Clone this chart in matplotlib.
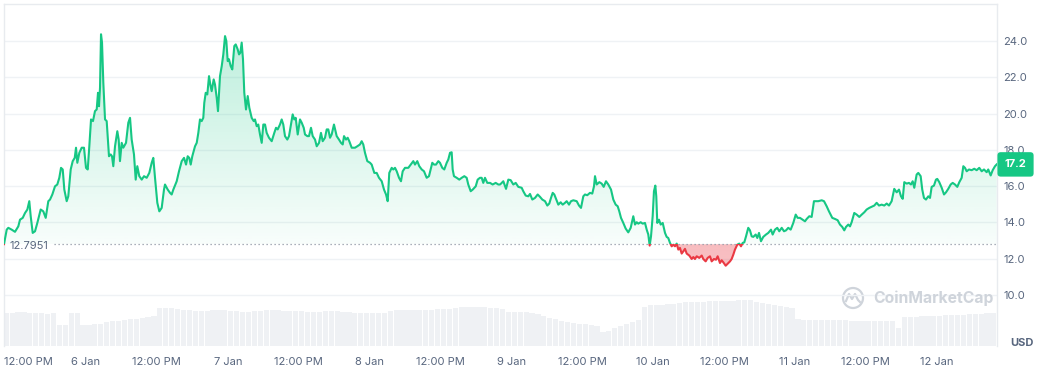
import numpy as np
import matplotlib
matplotlib.use("Agg")
import matplotlib.pyplot as plt
import matplotlib.colors as mcolors
from matplotlib.patches import Rectangle, Circle
from matplotlib.path import Path
from matplotlib.transforms import blended_transform_factory, IdentityTransform
from matplotlib.lines import Line2D

# ---------------- data (hours since 6 Jan 00:00, price in USD) ----------------
hours = [
    -13.88, -13.42, -13.15, -12.58, -12.02, -11.46, -11.17, -10.71, -10.32, -9.93,
    -9.60, -9.36, -9.02, -8.63, -8.24, -7.67, -7.23, -6.82, -6.38, -6.09,
    -5.70, -5.25, -4.86, -4.52, -4.23, -3.94, -3.67, -3.27, -3.00, -2.59,
    -2.25, -1.91, -1.69, -1.47, -1.13, -0.73, -0.34, 0.00, 0.29, 0.56,
    0.85, 1.18, 1.52, 1.81, 2.03, 2.20, 2.37, 2.54, 2.71, 2.93,
    3.22, 3.50, 3.89, 4.18, 4.40, 4.62, 4.91, 5.30, 5.53, 5.75,
    6.04, 6.31, 6.77, 7.16, 7.45, 7.73, 8.12, 8.41, 8.68, 9.02,
    9.43, 9.82, 10.27, 10.71, 11.12, 11.39, 11.68, 12.07, 12.41, 12.81,
    13.20, 13.37, 13.83, 14.22, 14.50, 14.78, 15.35, 15.74, 16.20, 16.59,
    16.93, 17.21, 17.48, 17.72, 17.99, 18.45, 18.74, 19.01, 19.29, 19.58,
    19.85, 20.02, 20.26, 20.53, 20.82, 21.04, 21.27, 21.61, 21.83, 22.12,
    22.34, 22.68, 22.97, 23.24, 23.53, 23.75, 23.98, 24.20, 24.49, 24.76,
    25.10, 25.34, 25.67, 25.90, 26.12, 26.35, 26.57, 26.79, 27.08, 27.37,
    27.64, 28.04, 28.38, 28.60, 28.89, 29.16, 29.45, 29.74, 30.01, 30.30,
    30.58, 30.97, 31.43, 31.87, 32.16, 32.44, 32.83, 33.12, 33.39, 33.68,
    34.07, 34.36, 34.70, 34.98, 35.25, 35.49, 35.83, 36.22, 36.51, 36.85,
    37.07, 37.46, 37.74, 38.08, 38.37, 38.76, 39.05, 39.44, 39.77, 40.06,
    40.45, 40.74, 41.01, 41.30, 41.58, 41.97, 42.43, 42.82, 43.16, 43.45,
    43.67, 44.01, 44.29, 44.56, 44.97, 45.53, 45.92, 46.37, 46.66, 46.93,
    47.22, 47.61, 48.07, 48.35, 48.80, 49.20, 49.59, 50.05, 50.44, 50.78,
    51.06, 51.33, 51.74, 52.01, 52.30, 52.59, 52.98, 53.31, 53.60, 53.99,
    54.55, 54.96, 55.40, 55.68, 56.07, 56.41, 56.82, 57.21, 57.66, 58.05,
    58.39, 58.61, 58.90, 59.24, 59.63, 59.91, 60.30, 60.64, 61.05, 61.32,
    61.61, 61.89, 62.06, 62.28, 62.74, 63.18, 63.59, 64.03, 64.43, 64.70,
    65.11, 65.45, 65.96, 66.29, 66.68, 66.97, 67.24, 67.53, 67.92, 68.38,
    68.83, 69.34, 69.78, 70.07, 70.24, 70.63, 71.09, 71.48, 71.88, 72.32,
    72.73, 73.17, 73.74, 74.01, 74.42, 74.86, 75.15, 75.54, 75.99, 76.45,
    76.84, 77.23, 77.69, 78.08, 78.41, 78.70, 78.99, 79.26, 79.60, 79.94,
    80.34, 80.68, 81.07, 81.36, 81.75, 82.09, 82.48, 83.05, 83.44, 83.78,
    84.17, 84.46, 84.84, 85.30, 85.69, 85.98, 86.15, 86.44, 86.88, 87.28,
    87.62, 88.01, 88.40, 88.86, 89.25, 89.65, 89.99, 90.26, 90.55, 90.94,
    91.34, 91.78, 92.19, 92.63, 92.92, 93.21, 93.48, 93.88, 94.22, 94.61,
    94.90, 95.17, 95.40, 95.63, 95.91, 96.13, 96.36, 96.52, 96.69, 96.98,
    97.27, 97.61, 98.00, 98.28, 98.55, 98.84, 99.13, 99.40, 99.69, 99.98,
    100.25, 100.53, 100.82, 101.09, 101.38, 101.67, 102.11, 102.51, 102.79, 103.07,
    103.36, 103.80, 104.21, 104.48, 104.88, 105.22, 105.61, 105.90, 106.29, 106.63,
    106.91, 107.30, 107.59, 107.86, 108.27, 108.61, 109.00, 109.28, 109.56, 109.84,
    110.23, 110.57, 110.86, 111.15, 111.42, 111.71, 112.09, 112.38, 112.67, 112.94,
    113.35, 113.62, 113.91, 114.24, 114.63, 115.09, 115.48, 115.94, 116.22, 116.61,
    117.00, 117.34, 117.75, 118.14, 118.48, 118.86, 119.27, 119.71, 120.12, 120.45,
    120.84, 121.30, 121.69, 121.98, 122.42, 122.82, 123.21, 123.55, 123.94, 124.52,
    124.91, 125.36, 125.75, 126.31, 126.77, 127.22, 127.61, 128.00, 128.34, 128.63,
    129.02, 129.31, 129.59, 130.03, 130.44, 130.88, 131.29, 131.73, 132.13, 132.57,
    132.98, 133.42, 133.82, 134.22, 134.67, 135.11, 135.52, 135.91, 136.36, 136.80,
    137.21, 137.60, 137.94, 138.23, 138.50, 138.90, 139.29, 139.63, 139.92, 140.19,
    140.59, 140.87, 141.27, 141.54, 141.83, 142.17, 142.56, 142.85, 143.13, 143.52,
    143.86, 144.08, 144.42, 144.83, 145.22, 145.56, 145.94, 146.35, 146.69, 147.08,
    147.47, 147.81, 148.21, 148.49, 148.77, 149.06, 149.45, 149.90, 150.34, 150.75,
    151.19, 151.60, 151.99, 152.44, 152.71, 153.12, 153.46, 153.85, 154.14,
]
price = [
    12.80, 13.60, 13.70, 13.60, 13.48, 13.78, 14.15, 14.25, 14.52, 14.71,
    15.17, 14.34, 13.42, 13.51, 13.97, 14.71, 14.61, 14.25, 15.17, 15.26,
    15.54, 15.99, 16.09, 16.46, 17.01, 16.92, 15.81, 15.17, 15.44, 16.92,
    17.38, 17.56, 18.12, 17.29, 17.84, 18.12, 18.12, 17.01, 16.92, 18.20,
    19.68, 19.59, 20.14, 20.23, 21.15, 20.41, 21.43, 24.38, 23.92, 21.71,
    19.68, 19.59, 17.65, 17.75, 17.65, 17.10, 18.20, 19.03, 18.57, 17.38,
    18.39, 18.12, 18.39, 19.50, 19.77, 18.57, 17.75, 16.36, 17.10, 16.55,
    16.36, 16.55, 16.46, 16.73, 17.29, 17.56, 16.46, 15.08, 14.61, 14.80,
    15.81, 16.09, 15.81, 15.63, 15.54, 15.81, 16.27, 16.82, 17.38, 17.56,
    17.19, 17.65, 17.56, 17.19, 17.65, 18.20, 18.39, 18.94, 19.68, 19.59,
    19.77, 20.60, 21.15, 21.06, 22.07, 21.61, 21.24, 21.89, 21.61, 20.88,
    20.14, 22.07, 22.62, 23.27, 24.28, 24.01, 22.90, 23.00, 22.62, 22.44,
    23.73, 23.82, 23.55, 23.27, 23.36, 23.92, 23.00, 21.15, 20.23, 20.97,
    20.33, 19.77, 19.59, 19.68, 19.31, 19.40, 18.85, 18.39, 19.40, 19.40,
    18.94, 18.67, 18.48, 18.94, 19.22, 19.13, 19.40, 19.68, 19.40, 18.76,
    18.57, 18.76, 19.40, 19.96, 19.68, 19.77, 18.85, 19.68, 19.50, 19.22,
    18.85, 18.76, 18.76, 19.22, 18.76, 18.57, 18.20, 18.39, 18.94, 18.48,
    18.67, 19.13, 19.13, 18.67, 18.85, 19.40, 18.76, 18.57, 18.39, 18.30,
    18.76, 18.57, 18.67, 18.48, 18.12, 18.12, 18.20, 18.30, 18.48, 18.30,
    17.84, 17.38, 17.29, 17.19, 16.73, 16.73, 16.46, 16.27, 15.81, 15.54,
    15.17, 16.73, 17.01, 16.92, 17.01, 16.82, 16.46, 16.27, 16.82, 17.01,
    17.01, 17.19, 17.38, 17.19, 17.38, 17.10, 16.92, 16.82, 16.46, 16.55,
    17.01, 17.29, 17.19, 17.19, 17.38, 17.29, 17.01, 16.92, 17.29, 17.47,
    17.84, 17.87, 16.92, 16.55, 16.46, 16.36, 16.46, 16.55, 16.46, 16.09,
    15.72, 15.81, 15.99, 16.36, 16.46, 16.46, 16.18, 16.46, 16.18, 16.18,
    16.09, 16.18, 16.09, 16.09, 16.14, 16.27, 15.85, 16.36, 16.33, 16.09,
    16.18, 15.96, 15.91, 15.72, 15.48, 15.44, 15.57, 15.26, 15.35, 15.54,
    15.41, 15.26, 15.17, 14.93, 15.04, 15.35, 15.63, 15.54, 15.26, 14.98,
    15.11, 14.98, 15.08, 15.17, 14.98, 15.17, 15.22, 15.17, 14.93, 14.80,
    15.44, 15.54, 15.50, 15.63, 15.59, 15.99, 16.55, 16.09, 16.22, 16.14,
    15.96, 16.27, 16.09, 15.81, 15.26, 14.98, 14.89, 14.61, 14.25, 13.97,
    13.66, 13.45, 13.70, 14.34, 13.88, 14.01, 13.93, 14.01, 13.93, 13.97,
    13.60, 13.33, 12.72, 13.23, 14.34, 15.72, 16.03, 15.44, 13.97, 14.15,
    13.88, 13.97, 13.42, 13.20, 13.14, 12.87, 12.68, 12.77, 12.68, 12.83,
    12.50, 12.59, 12.28, 12.40, 12.54, 12.28, 12.17, 11.98, 12.09, 11.98,
    12.13, 12.04, 12.17, 11.98, 11.85, 12.04, 12.13, 11.85, 11.98, 11.94,
    12.13, 11.76, 11.91, 11.80, 11.61, 11.72, 11.85, 11.98, 12.22, 12.50,
    12.77, 12.83, 12.68, 12.87, 12.90, 13.23, 13.70, 13.56, 13.23, 13.20,
    13.33, 13.14, 13.42, 12.96, 13.20, 13.33, 13.42, 13.60, 13.33, 13.60,
    13.70, 13.51, 13.70, 13.51, 13.56, 13.70, 13.60, 13.97, 14.43, 14.25,
    14.25, 14.15, 14.06, 14.19, 14.34, 14.30, 15.17, 15.17, 15.17, 15.22,
    15.17, 14.89, 14.61, 14.25, 14.19, 14.12, 13.88, 13.75, 13.56, 13.75,
    13.88, 13.78, 14.01, 14.52, 14.43, 14.30, 14.43, 14.56, 14.71, 14.80,
    14.86, 14.93, 15.08, 14.93, 14.98, 14.93, 15.04, 14.93, 15.17, 15.85,
    15.66, 15.81, 15.44, 15.30, 16.22, 16.14, 16.18, 16.09, 16.27, 15.91,
    16.64, 16.73, 16.55, 15.81, 15.35, 15.26, 15.44, 15.35, 15.96, 16.03,
    16.36, 16.40, 16.22, 15.91, 15.54, 15.66, 15.85, 16.09, 16.18, 16.09,
    15.96, 16.22, 16.46, 17.10, 17.01, 16.82, 16.92, 16.88, 16.96, 16.88,
    17.01, 16.82, 16.92, 16.77, 16.92, 16.59, 16.88, 17.10, 17.20,
]
base_price = 12.7951
last_price = 17.2

# hourly volume bars (hours since 6 Jan 00:00, volume in millions USD)
vol_hours = np.arange(-13.5, 154.0, 1.0)
volume = [
    33, 33, 34, 34, 33, 33, 33, 32, 33,
    21, 21,
    33, 33,
    21, 21, 22, 22,
    24, 25, 25, 26, 27, 27, 28, 29, 30,
    38, 38, 38, 37,
    36, 36, 35, 35, 35, 36, 36, 36, 35, 35, 34, 34, 35, 35, 36, 36, 36, 35, 35, 35,
    35, 34, 34, 34, 35, 35, 35, 34, 34, 33, 33,
    33, 33, 33, 33,
    35, 36, 36, 36, 36, 36, 36, 36, 37, 37, 37, 38,
    39, 39, 39, 39, 39, 38, 38, 37,
    34, 34, 34, 34, 33,
    32, 30, 28, 27, 25, 24, 23, 22, 22, 21, 20,
    14, 15,
    18, 20, 22, 24, 26,
    39, 41, 41, 41, 42, 42, 43,
    44, 44, 44, 44, 45, 45, 45, 45, 45, 46, 46, 46,
    44, 43, 42, 41, 40, 39, 38,
    27, 26, 26, 26, 26, 26, 26, 26, 26, 25, 25, 25, 25, 25, 25, 25, 25, 18,
    29, 29, 29, 30, 30, 30, 30, 31, 31, 31, 31, 32, 32, 32, 33, 33,
]

xtick_hours = [0, 12, 24, 36, 48, 60, 72, 84, 96, 108, 120, 132, 144]
xtick_labels = ["6 Jan", "12:00 PM", "7 Jan", "12:00 PM", "8 Jan", "12:00 PM",
                "9 Jan", "12:00 PM", "10 Jan", "12:00 PM", "11 Jan", "12:00 PM", "12 Jan"]
first_xlabel = "12:00 PM"
ytick_vals = [10, 12, 14, 16, 18, 20, 22, 24]

# ---------------- style ----------------
GREEN = "#16c784"
RED = "#ea3943"
TXT = "#58667e"
GRID = "#eff2f5"

plt.rcParams["font.family"] = ["Inter", "DejaVu Sans"]

t = np.asarray(hours)
p = np.asarray(price)
assert len(t) == len(p)
assert len(vol_hours) == len(volume)

W, H = 1044, 370
fig = plt.figure(figsize=(W / 100, H / 100), dpi=100)
ax = fig.add_axes([4 / W, 24 / H, 993 / W, 342 / H])

x0, x1 = -13.88, 154.19
y0, y1 = 7.18, 26.05

# volume on twin axis, drawn behind price axis
axv = ax.twinx()
axv.bar(vol_hours, volume, width=0.88, color="#eff1f4", linewidth=0)
axv.set_ylim(0, 342)
axv.set_axis_off()
axv.set_zorder(1)
ax.set_zorder(2)
ax.patch.set_visible(False)

# gradient fills
def grad_fill(where, color, a_bot, a_top, ylo, yhi):
    coll = ax.fill_between(t, p, base_price, where=where, interpolate=True,
                           facecolor="none", edgecolor="none")
    paths = [pp for pp in coll.get_paths() if len(pp.vertices) > 0]
    clip = Path.make_compound_path(*paths)
    g = np.zeros((256, 1, 4))
    g[..., :3] = mcolors.to_rgb(color)
    g[:, 0, 3] = np.linspace(a_bot, a_top, 256)
    im = ax.imshow(g, extent=[x0, x1, ylo, yhi], origin="lower", aspect="auto",
                   interpolation="bilinear", zorder=1)
    im.set_clip_path(clip, ax.transData)

grad_fill(p >= base_price, GREEN, 0.03, 0.32, base_price, y1)
grad_fill(p <= base_price, RED, 0.24, 0.34, y0, base_price)

# price line, coloured above / below the reference price
lg, = ax.plot(t, p, color=GREEN, lw=1.5, zorder=4, solid_joinstyle="round")
lg.set_clip_path(Rectangle((x0, base_price), x1 - x0, y1 - base_price, transform=ax.transData))
lr, = ax.plot(t, p, color=RED, lw=1.5, zorder=4, solid_joinstyle="round")
lr.set_clip_path(Rectangle((x0, y0), x1 - x0, base_price - y0, transform=ax.transData))

# reference dotted line + label
ax.axhline(base_price, xmin=0.05, xmax=1.0, color="#8e96a4", lw=0.9,
           linestyle=(0, (1, 2.2)), zorder=3)
bt = blended_transform_factory(ax.transAxes, ax.transData)
ax.annotate(f"{base_price:.4f}", xy=(0.006, base_price), xycoords=bt,
            xytext=(0, -1.2), textcoords="offset points",
            ha="left", va="center", fontsize=8, color=TXT, zorder=5)

ax.set_xlim(x0, x1)
ax.set_ylim(y0, y1)

# axes styling
ax.yaxis.tick_right()
ax.set_yticks(ytick_vals)
ax.set_yticklabels([f"{v:.1f}" for v in ytick_vals])
ax.set_xticks(xtick_hours)
ax.set_xticklabels(xtick_labels)
ax.tick_params(axis="y", length=0, pad=4.5, labelsize=8, labelcolor=TXT)
ax.tick_params(axis="x", length=0, pad=8, labelsize=8, labelcolor=TXT)
ax.yaxis.grid(True, color=GRID, lw=1)
ax.xaxis.grid(False)
ax.set_axisbelow(True)
for s in ["top", "left", "right"]:
    ax.spines[s].set_color("#e8ebef")
    ax.spines[s].set_linewidth(1)
ax.spines["bottom"].set_visible(False)

ax.annotate(first_xlabel, xy=(0, 0), xycoords="axes fraction", xytext=(0, -8),
            textcoords="offset points", ha="left", va="top", fontsize=8, color=TXT)

# current price badge
ax.annotate(f"{last_price:.1f}", xy=(1, last_price), xycoords=bt,
            xytext=(5.5, 0), textcoords="offset points", ha="left", va="center",
            fontsize=8, fontweight="bold", color="white", zorder=10,
            annotation_clip=False,
            bbox=dict(boxstyle="round,pad=0.65,rounding_size=0.3", fc=GREEN, ec="none"))

fig.text(1022 / W, 1 - 343 / H, "USD", ha="center", va="center", fontsize=8,
         fontweight="bold", color=TXT)

# watermark
wm = "#cfd4db"
fig.text(873 / W, 1 - 298 / H, "CoinMarketCap", ha="left", va="center",
         fontsize=11.3, fontweight="bold", color=wm)
fig.add_artist(Circle((853, H - 298), 10, transform=IdentityTransform(),
                      fill=False, ec=wm, lw=1.6))
fig.add_artist(Line2D([846, 849, 852, 855, 858, 860], [H - 301, H - 294, H - 299, H - 294, H - 300, H - 302],
                      transform=IdentityTransform(), color=wm, lw=1.6))

fig.savefig("out.png", dpi=100, facecolor="white")
